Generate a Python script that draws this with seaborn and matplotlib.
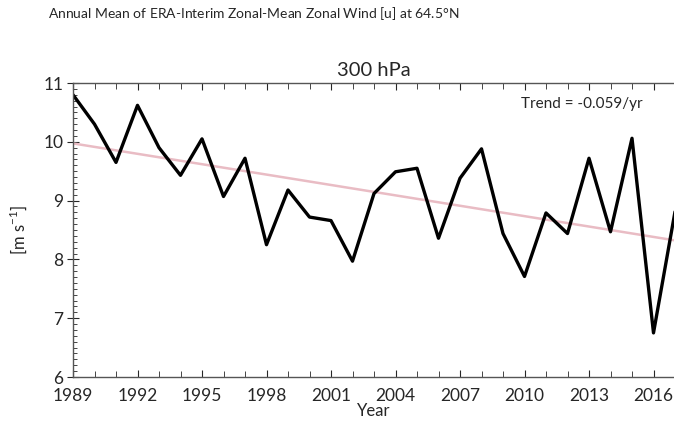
import numpy as np
import pandas as pd
import matplotlib
matplotlib.use("Agg")
import matplotlib.pyplot as plt
from matplotlib.ticker import MultipleLocator
import seaborn as sns

# annual mean zonal wind at 300 hPa, 64.5N
years = list(range(1989, 2018))
wind = [10.80, 10.30, 9.65, 10.62, 9.90, 9.43, 10.05, 9.07, 9.72, 8.25,
        9.18, 8.72, 8.66, 7.97, 9.12, 9.49, 9.55, 8.36, 9.38, 9.88,
        8.44, 7.71, 8.79, 8.44, 9.72, 8.47, 10.06, 6.75, 8.81]
trend_label = "Trend = -0.059/yr"
year_ticks = list(range(1989, 2017, 3))

df = pd.DataFrame({"Year": years, "u": wind})
slope, icpt = np.polyfit(df["Year"], df["u"], 1)
df["trend"] = icpt + slope * df["Year"]
print(f"slope: {slope:.4f}")

sns.set_style("ticks")
plt.rcParams['font.family'] = ['Lato', 'DejaVu Sans']
plt.rcParams['mathtext.fontset'] = 'custom'
plt.rcParams['mathtext.rm'] = 'Lato'

fig = plt.figure(figsize=(6.74, 4.21), dpi=100)
ax = fig.add_axes([73/674, 44/421, 602/674, 294/421])

sns.lineplot(data=df, x="Year", y="trend", ax=ax, color="#e9bcc4", lw=1.8)
sns.lineplot(data=df, x="Year", y="u", ax=ax, color="black", lw=2.4)

ax.set_xlim(1989, 2017)
ax.set_ylim(6, 11)
ax.set_xticks(year_ticks)
ax.xaxis.set_minor_locator(MultipleLocator(1))
ax.yaxis.set_major_locator(MultipleLocator(1))
ax.yaxis.set_minor_locator(MultipleLocator(0.1))
ax.tick_params(axis="x", which="both", direction="in", top=True, labelsize=12.5, pad=8)
ax.tick_params(axis="x", which="major", length=5)
ax.tick_params(axis="x", which="minor", length=4)
ax.tick_params(axis="y", which="major", direction="inout", length=8, labelsize=12.5, pad=3)
ax.tick_params(axis="y", which="minor", direction="in", length=3)
for s in ax.spines.values():
    s.set_color("#555555")
    s.set_linewidth(1.0)

ax.set_xlabel("Year", fontsize=12, labelpad=-1)
ax.set_ylabel("[m s$^{-1}$]", fontsize=12, labelpad=10)
ax.set_title("300 hPa", fontsize=14.5, pad=5)
ax.text(0.947, 0.93, trend_label, transform=ax.transAxes, ha="right", va="center", fontsize=11)

fig.text(48/674, 1 - 14/421, "Annual Mean of ERA-Interim Zonal-Mean Zonal Wind [u] at 64.5$\\degree$N",
         ha="left", va="center", fontsize=10)

fig.savefig("out.png", dpi=100)
